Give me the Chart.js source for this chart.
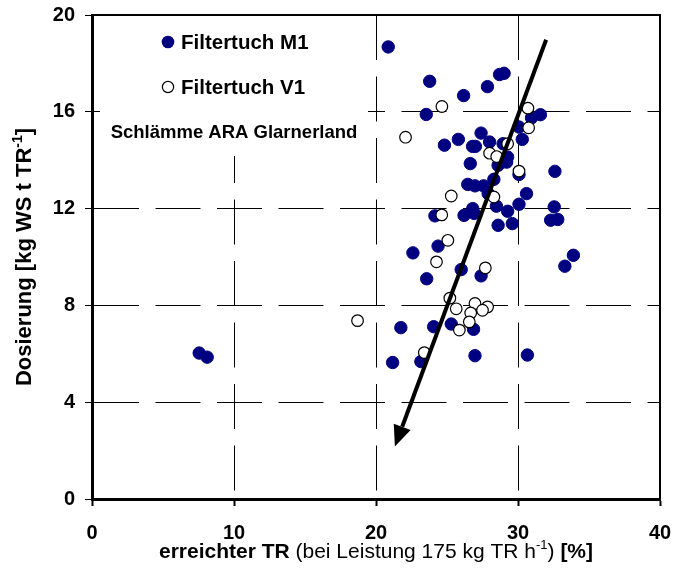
<!DOCTYPE html>
<html lang="de">
<head>
<meta charset="utf-8">
<title>Dosierung – erreichter TR</title>
<script src="https://cdn.jsdelivr.net/npm/chart.js@4.4.0/dist/chart.umd.min.js"></script>
<style>
  html, body { margin: 0; padding: 0; background: #fff; }
  #wrap { width: 674px; height: 578px; }
</style>
</head>
<body>
<div id="wrap"><canvas id="grafico" width="674" height="578"></canvas></div>
<script>
// Filtertuch M1 (gefüllte Punkte): erreichter TR [%] / Dosierung [kg WS t TR-1]
const m1TR = [7.55, 8.11, 20.86, 23.78, 26.17, 27.85, 28.7, 29.02, 23.54, 31.58, 30.95, 30.07, 27.4, 25.8, 24.82,
  26.8, 27.0, 28.0, 30.3, 28.95, 29.27, 29.2, 28.6, 26.64, 30.07, 32.6, 28.3, 26.46, 26.97, 27.58,
  30.6, 27.9, 30.07, 28.48, 29.27, 32.55, 26.81, 26.92, 26.2, 24.15, 28.6, 29.6, 32.3, 32.8, 24.37,
  22.6, 33.9, 33.3, 26.0, 27.4, 23.57, 21.75, 24.06, 25.3, 26.87, 23.16, 21.17, 26.97, 30.66];
const m1Dosierung = [6.03, 5.86, 18.68, 17.26, 16.67, 17.04, 17.54, 17.59, 15.89, 15.88, 15.75, 15.37, 15.12, 14.86, 14.62,
  14.57, 14.57, 14.75, 14.86, 14.68, 14.13, 13.92, 13.79, 13.86, 13.41, 13.54, 13.21, 13.0, 12.94, 12.94,
  12.62, 12.62, 12.18, 12.1, 11.89, 12.07, 12.0, 11.8, 11.72, 11.7, 11.31, 11.38, 11.52, 11.55, 10.45,
  10.17, 10.07, 9.62, 9.48, 9.22, 9.1, 7.08, 7.12, 7.23, 7.01, 5.68, 5.64, 5.92, 5.95];

// Filtertuch V1 (offene Punkte)
const v1TR = [24.64, 22.08, 30.7, 30.75, 29.27, 28.0, 28.5, 30.07, 25.3, 28.3, 24.63, 25.06,
  24.26, 27.7, 25.2, 25.65, 26.97, 27.86, 27.5, 26.67, 26.57, 25.87, 18.7, 23.4];
const v1Dosierung = [16.22, 14.95, 16.15, 15.34, 14.68, 14.29, 14.15, 13.55, 12.52, 12.48, 11.74, 10.69,
  9.8, 9.55, 8.3, 7.86, 8.08, 7.94, 7.8, 7.69, 7.32, 6.98, 7.37, 6.05];

// Trendpfeil: Anfang und Spitze in Achsenwerten
const pfeilTR = [31.98, 21.33];
const pfeilDosierung = [18.98, 2.17];

// Achsenteilung
const ticksX = [0, 10, 20, 30, 40];
const ticksY = [0, 4, 8, 12, 16, 20];

const legende = ['Filtertuch M1', 'Filtertuch V1'];
const hinweis = 'Schlämme ARA Glarnerland';

const SCHRIFT = '"Liberation Sans", Arial, Helvetica, sans-serif';
const NAVY = '#000080';

const punkte = (xs, ys) => xs.map((x, i) => ({ x, y: ys[i] }));

// Text mit wechselnden Schnitten (fett / normal / hochgestellt) zeichnen
function TextStueckweise(ctx, teile, groesse, x, y) {
  const fontFuer = t => `${t.fett ? 'bold ' : ''}${t.hoch ? Math.round(groesse * 0.62) : groesse}px ${SCHRIFT}`;
  let breite = 0;
  teile.forEach(t => { ctx.font = fontFuer(t); breite += ctx.measureText(t.text).width; });
  let cx = x - breite / 2;
  ctx.textBaseline = 'alphabetic';
  ctx.textAlign = 'left';
  teile.forEach(t => {
    ctx.font = fontFuer(t);
    ctx.fillText(t.text, cx, t.hoch ? y - groesse * 0.42 : y);
    cx += ctx.measureText(t.text).width;
  });
}

const zusatz = {
  id: 'zusatz',
  beforeDatasetsDraw(chart) {
    const { ctx, chartArea: a } = chart;
    // weisser Hintergrund hinter Legende und Hinweis
    ctx.save();
    ctx.fillStyle = '#fff';
    ctx.fillRect(a.left + 8, a.top + 1, 268, 140);
    ctx.restore();
  },
  afterDraw(chart) {
    const { ctx, chartArea: a, scales } = chart;
    ctx.save();

    // Rahmen oben und rechts
    ctx.strokeStyle = '#000';
    ctx.lineWidth = 2;
    ctx.beginPath();
    ctx.moveTo(a.left, a.top);
    ctx.lineTo(a.right, a.top);
    ctx.lineTo(a.right, a.bottom);
    ctx.stroke();

    // Trendpfeil
    const x1 = scales.x.getPixelForValue(pfeilTR[0]);
    const y1 = scales.y.getPixelForValue(pfeilDosierung[0]);
    const x2 = scales.x.getPixelForValue(pfeilTR[1]);
    const y2 = scales.y.getPixelForValue(pfeilDosierung[1]);
    const winkel = Math.atan2(y2 - y1, x2 - x1);
    const kopfLaenge = 21, kopfBreite = 9;
    const bx = x2 - kopfLaenge * Math.cos(winkel);
    const by = y2 - kopfLaenge * Math.sin(winkel);
    ctx.lineWidth = 4;
    ctx.lineCap = 'butt';
    ctx.beginPath();
    ctx.moveTo(x1, y1);
    ctx.lineTo(bx, by);
    ctx.stroke();
    ctx.fillStyle = '#000';
    ctx.beginPath();
    ctx.moveTo(x2, y2);
    ctx.lineTo(bx + kopfBreite * Math.sin(winkel), by - kopfBreite * Math.cos(winkel));
    ctx.lineTo(bx - kopfBreite * Math.sin(winkel), by + kopfBreite * Math.cos(winkel));
    ctx.closePath();
    ctx.fill();

    // Legende
    const lx = a.left + 76;
    ctx.beginPath();
    ctx.arc(lx, a.top + 27, 6.3, 0, Math.PI * 2);
    ctx.fillStyle = NAVY;
    ctx.fill();
    ctx.beginPath();
    ctx.arc(lx, a.top + 72, 5.6, 0, Math.PI * 2);
    ctx.fillStyle = '#fff';
    ctx.fill();
    ctx.lineWidth = 1.2;
    ctx.strokeStyle = '#000';
    ctx.stroke();

    ctx.fillStyle = '#000';
    ctx.font = `bold 20.5px ${SCHRIFT}`;
    ctx.textAlign = 'left';
    ctx.textBaseline = 'middle';
    ctx.fillText(legende[0], lx + 13, a.top + 28);
    ctx.fillText(legende[1], lx + 13, a.top + 73);

    ctx.font = `bold 18.5px ${SCHRIFT}`;
    ctx.textAlign = 'center';
    ctx.fillText(hinweis, a.left + 142, a.top + 118);

    // Achsentitel
    TextStueckweise(ctx, [
      { text: 'erreichter TR', fett: true },
      { text: ' (bei Leistung 175 kg TR h' },
      { text: '-1', hoch: true },
      { text: ') ' },
      { text: '[%]', fett: true }
    ], 21, (a.left + a.right) / 2, 558);

    ctx.save();
    ctx.translate(31, (a.top + a.bottom) / 2);
    ctx.rotate(-Math.PI / 2);
    TextStueckweise(ctx, [
      { text: 'Dosierung [kg WS t TR', fett: true },
      { text: '-1', fett: true, hoch: true },
      { text: ']', fett: true }
    ], 22, 0, 0);
    ctx.restore();

    ctx.restore();
  }
};

const achse = (ticks, breite) => ({
  type: 'linear',
  min: ticks[0],
  max: ticks[ticks.length - 1],
  afterBuildTicks: s => { s.ticks = ticks.map(v => ({ value: v })); },
  grid: { color: '#000', lineWidth: 1, tickLength: 7, tickWidth: breite, tickColor: '#000' },
  border: { display: true, color: '#000', width: 3, dash: [45, 16.5] },
  ticks: { color: '#000', font: { family: SCHRIFT, size: 20, weight: 'bold' } },
  title: { display: false }
});

// feste Achsenmasse, ohne Zusatzabstand fuer ueberstehende Beschriftungen
const ohneRand = s => { s.paddingTop = 0; s.paddingBottom = 0; s.paddingLeft = 0; s.paddingRight = 0; };

const skalaX = achse(ticksX, 2);
skalaX.ticks.padding = 15;
skalaX.afterFit = s => { s.height = 79; ohneRand(s); };

const skalaY = achse(ticksY, 1);
skalaY.ticks.padding = 10;
skalaY.afterFit = s => { s.width = 92; ohneRand(s); };

new Chart(document.getElementById('grafico'), {
  type: 'scatter',
  data: {
    datasets: [
      {
        label: legende[0],
        data: punkte(m1TR, m1Dosierung),
        backgroundColor: NAVY,
        borderColor: NAVY,
        borderWidth: 1,
        pointRadius: 6.2,
        order: 2
      },
      {
        label: legende[1],
        data: punkte(v1TR, v1Dosierung),
        backgroundColor: '#fff',
        borderColor: '#000',
        borderWidth: 1.2,
        pointRadius: 5.8,
        order: 1
      }
    ]
  },
  options: {
    responsive: false,
    animation: false,
    devicePixelRatio: 1,
    layout: { padding: { top: 15, right: 14, left: 0, bottom: 0 } },
    plugins: {
      legend: { display: false },
      title: { display: false },
      tooltip: { enabled: false }
    },
    scales: { x: skalaX, y: skalaY }
  },
  plugins: [zusatz]
});
</script>
</body>
</html>
